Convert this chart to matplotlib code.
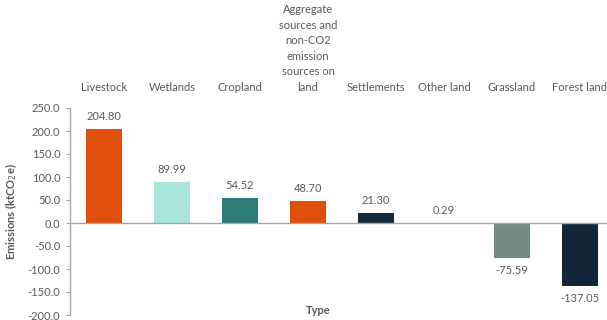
import matplotlib
matplotlib.use("Agg")
import matplotlib.pyplot as plt

categories = ["Livestock", "Wetlands", "Cropland",
              "Aggregate\nsources and\nnon-CO2\nemission\nsources on\nland",
              "Settlements", "Other land", "Grassland", "Forest land"]
values = [204.80, 89.99, 54.52, 48.70, 21.30, 0.29, -75.59, -137.05]
colors = ["#E04E0B", "#A9E5DB", "#2F7B78", "#E04E0B", "#142A3C", "#9FB0AC", "#748A85", "#132639"]
yticks = [250, 200, 150, 100, 50, 0, -50, -100, -150, -200]

plt.rcParams['font.family'] = ['Lato', 'DejaVu Sans']
txt = "#595959"
fs = 8

fig = plt.figure(figsize=(6.07, 3.2), dpi=100)
ax = fig.add_axes([70/607, 1-315/320, 544/607, (315-108)/320])

x = list(range(len(categories)))
ax.bar(x, values, width=0.52, color=colors, zorder=2)
ax.set_xlim(-0.5, len(categories) - 0.5)
ax.set_ylim(-200, 250)
ax.set_yticks(yticks)
ax.set_yticklabels([f"{v:.1f}" for v in yticks], color=txt, fontsize=fs)
ax.axhline(0, color="#A6A6A6", lw=1.0, zorder=3)

ax.xaxis.tick_top()
ax.set_xticks(x)
ax.set_xticklabels(categories, color=txt, fontsize=fs, linespacing=1.5)
ax.tick_params(axis='x', length=0, pad=11)
ax.tick_params(axis='y', length=3, color="#A6A6A6", pad=4)

for s in ["top", "right", "bottom"]:
    ax.spines[s].set_visible(False)
ax.spines["left"].set_color("#A6A6A6")
ax.spines["left"].set_linewidth(1.0)

for xi, v in zip(x, values):
    if v >= 0:
        ax.annotate(f"{v:.2f}", (xi, v), xytext=(0, 5), textcoords="offset points",
                    ha="center", va="bottom", color=txt, fontsize=fs)
    else:
        ax.annotate(f"{v:.2f}", (xi, v), xytext=(0, -5), textcoords="offset points",
                    ha="center", va="top", color=txt, fontsize=fs)

ax.set_ylabel(r"Emissions (ktCO$_2$e)", color=txt, fontsize=fs, fontweight="bold", labelpad=6)
fig.text(318/607, 1-310/320, "Type", color=txt, fontsize=fs, fontweight="bold", ha="center", va="center")

fig.savefig("out.png", dpi=100)
